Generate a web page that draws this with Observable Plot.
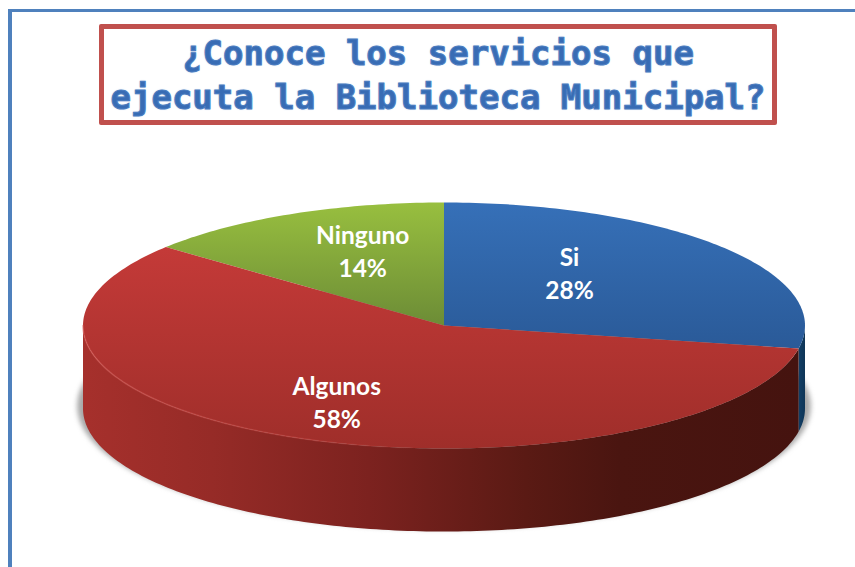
<!DOCTYPE html>
<html lang="es">
<head>
<meta charset="utf-8">
<script src="https://cdn.jsdelivr.net/npm/d3@7"></script>
<script src="https://cdn.jsdelivr.net/npm/@observablehq/plot@0.6"></script>
<style>
  html, body { margin: 0; padding: 0; background: #fff; width: 855px; height: 567px; overflow: hidden; }
  #frame { position: absolute; left: 8px; top: 9px; width: 847px; height: 558px;
           border-left: 4px solid #4f81bd; border-top: 3px solid #4f81bd; box-sizing: border-box; }
  #title { position: absolute; left: 99px; top: 24px; width: 678px; height: 101px; box-sizing: border-box;
           border: 5px solid #c0504d; border-radius: 2px; background: #fff; text-align: center;
           font: bold 34px/44px "DejaVu Sans Mono", monospace; color: #386cb4; padding-top: 2px;
           -webkit-text-stroke: 1px #4a7cc0; text-shadow: 0 0 2px #a9c4e6; white-space: pre; }
  #chart { position: absolute; left: 0; top: 0; }
  #chart svg { display: block; }
</style>
</head>
<body>
<div id="frame"></div>
<div id="title">¿Conoce los servicios que
ejecuta la Biblioteca Municipal?</div>
<div id="chart"></div>
<script>
const categories = ["Si", "Algunos", "Ninguno"];
const percents = [28, 58, 14];

const thickness = 0.675;
const STEP = Math.PI / 180;

const arcs = d3.pie().sort(null)(percents);
const arcPoints = (a, b, drop = 0, k = 1) =>
  d3.range(a, b, STEP).concat(b).map(t => ({x: k * Math.sin(t), y: Math.cos(t) - drop}));

const wedge = arc => [{x: 0, y: 0}, ...arcPoints(arc.startAngle, arc.endAngle)];

function sidePoints(arc) {
  const a = Math.max(arc.startAngle, Math.PI / 2);
  const b = Math.min(arc.endAngle, 3 * Math.PI / 2);
  return [...arcPoints(a, b), ...arcPoints(a, b, thickness).reverse()];
}

const shadow = arcPoints(0, 2 * Math.PI, thickness - 0.02, 1.016);
const rim = arcPoints(Math.PI * 1.02, 1.5 * Math.PI);

const labels = arcs.map((arc, i) => {
  const mid = (arc.startAngle + arc.endAngle) / 2;
  return {text: `${categories[i]}\n${percents[i]}%`, x: 0.62 * Math.sin(mid), y: 0.62 * Math.cos(mid)};
});

function gradient(defs, id, vertical, stops) {
  const g = defs.append("linearGradient").attr("id", id)
    .attr("x1", 0).attr("y1", 0).attr("x2", vertical ? 0 : 1).attr("y2", vertical ? 1 : 0);
  for (const [o, c, a] of stops)
    g.append("stop").attr("offset", o).attr("stop-color", c).attr("stop-opacity", a ?? 1);
}

const defsMark = () => {
  const defs = d3.create("svg:defs");
  gradient(defs, "topSi", true, [[0, "#3670b8"], [1, "#2a5a98"]]);
  gradient(defs, "topAlgunos", true, [[0, "#c43a38"], [1, "#9f2e2a"]]);
  gradient(defs, "topNinguno", true, [[0, "#98bf3f"], [1, "#6c8c36"]]);
  gradient(defs, "sideSi", false, [[0, "#123f66"], [1, "#0f3556"]]);
  gradient(defs, "sideAlgunos", false, [[0, "#a6302c"], [0.18, "#962b27"], [0.4, "#7c221f"], [0.62, "#5a1a14"], [0.75, "#4a1510"], [1, "#45130f"]]);
  gradient(defs, "rimGlow", false, [[0, "#d9605c", 0.55], [0.7, "#d9524e", 0.35], [1, "#d9524e", 0]]);
  return defs.node();
};

const plot = Plot.plot({
  width: 855,
  height: 567,
  margin: 0,
  x: {domain: [-1, 1], range: [82.5, 804.5], axis: null},
  y: {domain: [-1, 1], range: [448, 202], axis: null},
  marks: [
    defsMark,
    Plot.line(shadow, {x: "x", y: "y", fill: "#a8a8a8", stroke: "none", imageFilter: "blur(2.5px)"}),
    Plot.line(sidePoints(arcs[0]), {x: "x", y: "y", fill: "url(#sideSi)", stroke: "none"}),
    Plot.line(sidePoints(arcs[1]), {x: "x", y: "y", fill: "url(#sideAlgunos)", stroke: "none"}),
    Plot.line(wedge(arcs[0]), {x: "x", y: "y", fill: "url(#topSi)", stroke: "none"}),
    Plot.line(wedge(arcs[2]), {x: "x", y: "y", fill: "url(#topNinguno)", stroke: "none"}),
    Plot.line(wedge(arcs[1]), {x: "x", y: "y", fill: "url(#topAlgunos)", stroke: "none"}),
    Plot.line(rim, {x: "x", y: "y", stroke: "url(#rimGlow)", strokeWidth: 1.5}),
    ...[[-47, -5], [-12, 6.5], [14, -7]].map(([dx, dy], i) =>
      Plot.text([labels[i]], {
        x: "x", y: "y", text: "text", dx, dy,
        fill: "white", fontFamily: "Lato", fontWeight: "bold", fontSize: 24.5, lineHeight: 1.35
      }))
  ]
});
document.getElementById("chart").append(plot);
</script>
</body>
</html>
